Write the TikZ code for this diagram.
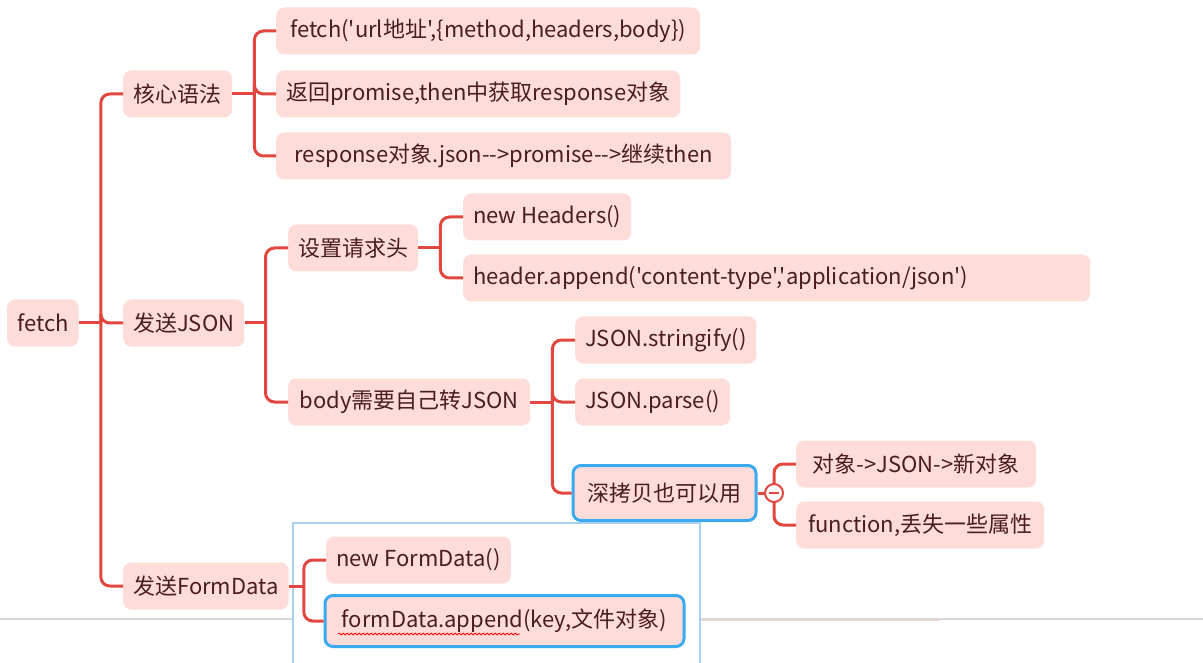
\documentclass[tikz,border=0pt]{standalone}
\usepackage{fontspec}
\setmainfont{Noto Sans CJK SC}[Ligatures=TeXOff]
\usetikzlibrary{decorations.pathmorphing}
\definecolor{linkred}{HTML}{E2473F}
\definecolor{boxpink}{HTML}{FDDCDA}
\definecolor{inktext}{HTML}{4A1E1C}
\definecolor{selblue}{HTML}{3AAAF0}
\definecolor{popline}{HTML}{A9D0F3}
\tikzstyle{topic} = [rectangle, rounded corners=8pt, minimum height=47pt, inner xsep=10pt, anchor=west, fill=boxpink, text=inktext, font=\fontsize{22}{25}\selectfont]
\tikzstyle{picked} = [topic, draw=selblue, line width=3pt]
\tikzstyle{branch} = [draw=linkred, line width=3pt, rounded corners=9pt]

\begin{document}
\begin{tikzpicture}[x=1pt, y=-1pt]

\fill[white] (0,0) rectangle (1203,663);
\useasboundingbox (0,0) rectangle (1203,663);

% page edge under the popup
\draw[linkred!25, line width=2pt] (700,620) -- (940,620);
\draw[black!15, line width=1.5pt] (0,619) -- (1203,619);

\node (0) [topic] at (7,323) {fetch};
\node (1) [topic, minimum width=109pt] at (123,94) {核心语法};
\node (2) [topic] at (123,323) {发送JSON};
\node (3) [topic] at (123,586) {发送FormData};
\node (4) [topic, minimum width=424pt] at (276,31) {fetch('url地址',\{method,headers,body\})};
\node (5) [topic] at (276,94) {返回promise,then中获取response对象};
\node (6) [topic, minimum width=455pt] at (276,156) {response对象.json-->promise-->继续then};
\node (7) [topic] at (288,248) {设置请求头};
\node (8) [topic, minimum width=242pt] at (288,402) {body需要自己转JSON};
\node (9) [topic] at (463,217) {new Headers()};
\node (10) [topic, text width=607pt, align=left] at (463,278) {header.append('content-type','application/json')};
\node (11) [topic] at (575,340) {JSON.stringify()};
\node (12) [topic] at (575,402) {JSON.parse()};
\node (13) [picked, minimum height=55pt, minimum width=183pt] at (571.5,493) {深拷贝也可以用};
\node (14) [topic, minimum width=240pt] at (796,464) {对象->JSON->新对象};
\node (15) [topic, minimum width=248pt] at (796,525) {function,丢失一些属性};

\coordinate (t0) at ([xshift=22pt]0.east);
\coordinate (t1) at ([xshift=22pt]1.east);
\coordinate (t2) at ([xshift=21pt]2.east);
\coordinate (t7) at ([xshift=22pt]7.east);
\coordinate (t8) at ([xshift=22pt]8.east);
\coordinate (t13) at (774,493);

\draw [branch] (0.east) -- (t0);
\draw [branch] (t0) |- (1.west);
\draw [branch] (t0) |- (2.west);
\draw [branch] (t0) |- (3.west);
\draw [branch] (1.east) -- (t1);
\draw [branch] (t1) |- (4.west);
\draw [branch] (t1) |- (5.west);
\draw [branch] (t1) |- (6.west);
\draw [branch] (2.east) -- (t2);
\draw [branch] (t2) |- (7.west);
\draw [branch] (t2) |- (8.west);
\draw [branch] (7.east) -- (t7);
\draw [branch] (t7) |- (9.west);
\draw [branch] (t7) |- (10.west);
\draw [branch] (8.east) -- (t8);
\draw [branch] (t8) |- (11.west);
\draw [branch] (t8) |- (12.west);
\draw [branch] (t8) |- (13.west);
\draw [branch] (13.east) -- (t13);
\draw [branch] (t13) |- (14.west);
\draw [branch] (t13) |- (15.west);
\draw [linkred, line width=2pt, fill=white] (t13) circle (9pt);
\draw [linkred, line width=2pt] ([xshift=-5pt]t13) -- ([xshift=5pt]t13);

% editing popup
\draw [popline, fill=white, line width=1.5pt] (293,523) rectangle (700,670);

\node (16) [topic] at (326,560) {new FormData()};
\node (17) [picked, minimum height=51pt, minimum width=359pt] at (323.5,621) {formData.append(key,文件对象)};

\coordinate (t3) at ([xshift=15pt]3.east);
\draw [branch] (3.east) -- (t3);
\draw [branch] (t3) |- (16.west);
\draw [branch] (t3) |- (17.west);

\draw [red, line width=0.8pt, decorate, decoration={snake, amplitude=0.9pt, segment length=4pt}] (338,634) -- (520,634);

\end{tikzpicture}
\end{document}
